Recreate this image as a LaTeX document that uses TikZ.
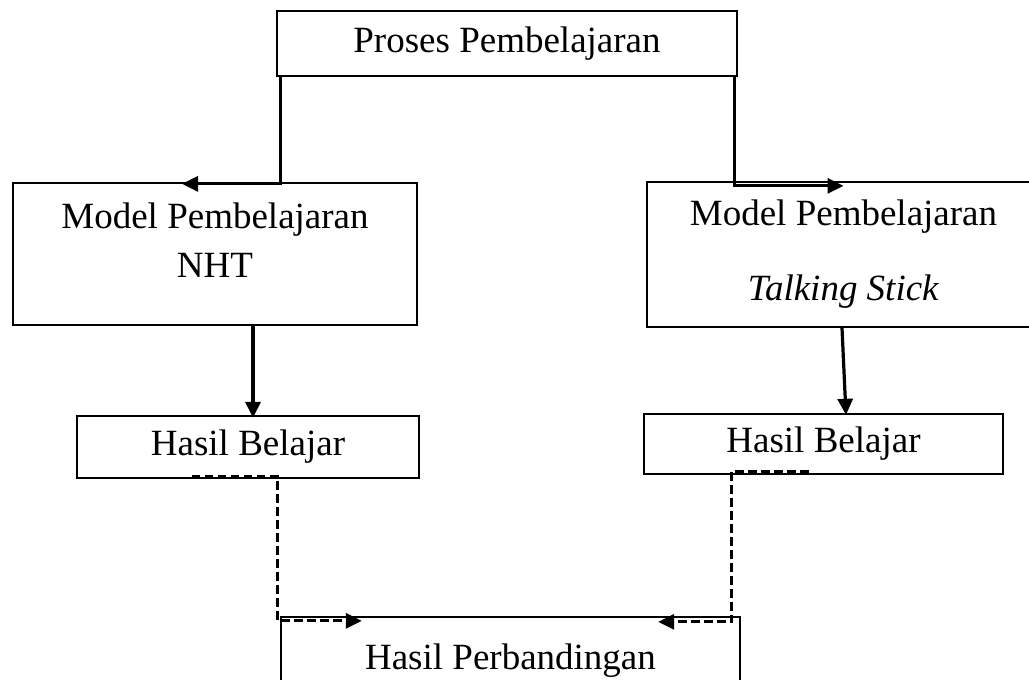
\documentclass[tikz,border=0pt]{standalone}
\usepackage{fontspec}
\setmainfont{Liberation Serif}
\usetikzlibrary{arrows.meta}
\begin{document}
\begin{tikzpicture}[x=1pt,y=-1pt,
  kotak/.style={draw=black, line width=2.3pt, rectangle, inner sep=0pt, align=center, font=\fontsize{37}{49}\selectfont},
  panah/.style={line width=3.2pt, -{Triangle[length=16pt,width=15pt]}},
  putus/.style={panah, line width=3pt, dash pattern=on 8.5pt off 4.5pt}]
\useasboundingbox (0,0) rectangle (1029,680);
\node[kotak, minimum width=460pt, minimum height=65pt] (proses) at (507,43.5) {Proses Pembelajaran};
\node[kotak, minimum width=404pt, minimum height=142pt, text depth=28pt] (nht) at (215,254) {Model Pembelajaran\\NHT};
\node[kotak, minimum width=393pt, minimum height=145pt] (ts) at (843.5,254.5) {Model Pembelajaran\\[26pt]\textit{Talking Stick}};
\node[kotak, minimum width=342pt, minimum height=62pt] (hasilA) at (248,447) {Hasil Belajar};
\node[kotak, minimum width=359pt, minimum height=60pt] (hasilB) at (823.5,444) {Hasil Belajar};
\node[kotak, minimum width=459pt, minimum height=88pt] (banding) at (510.5,661) {Hasil Perbandingan};
\draw[panah] ([xshift=5pt]proses.south west) |- ([xshift=-33pt,yshift=-2pt]nht.north);
\draw[panah] ([xshift=-4pt]proses.south east) |- ([yshift=-5pt]ts.north);
\draw[panah] ([xshift=38pt]nht.south) -- ([xshift=5pt,yshift=-3pt]hasilA.north);
\draw[panah] ([xshift=-1.5pt]ts.south) -- ([xshift=22.5pt,yshift=-2pt]hasilB.north);
\draw[putus] ([xshift=116pt,yshift=3pt]hasilA.south west) -- ++(86,0) |- ([xshift=82pt,yshift=-5pt]banding.north west);
\draw[putus] ([xshift=166pt,yshift=4pt]hasilB.south west) -- ++(-77,0) |- ([xshift=-83pt,yshift=-6pt]banding.north east);
\end{tikzpicture}
\end{document}
